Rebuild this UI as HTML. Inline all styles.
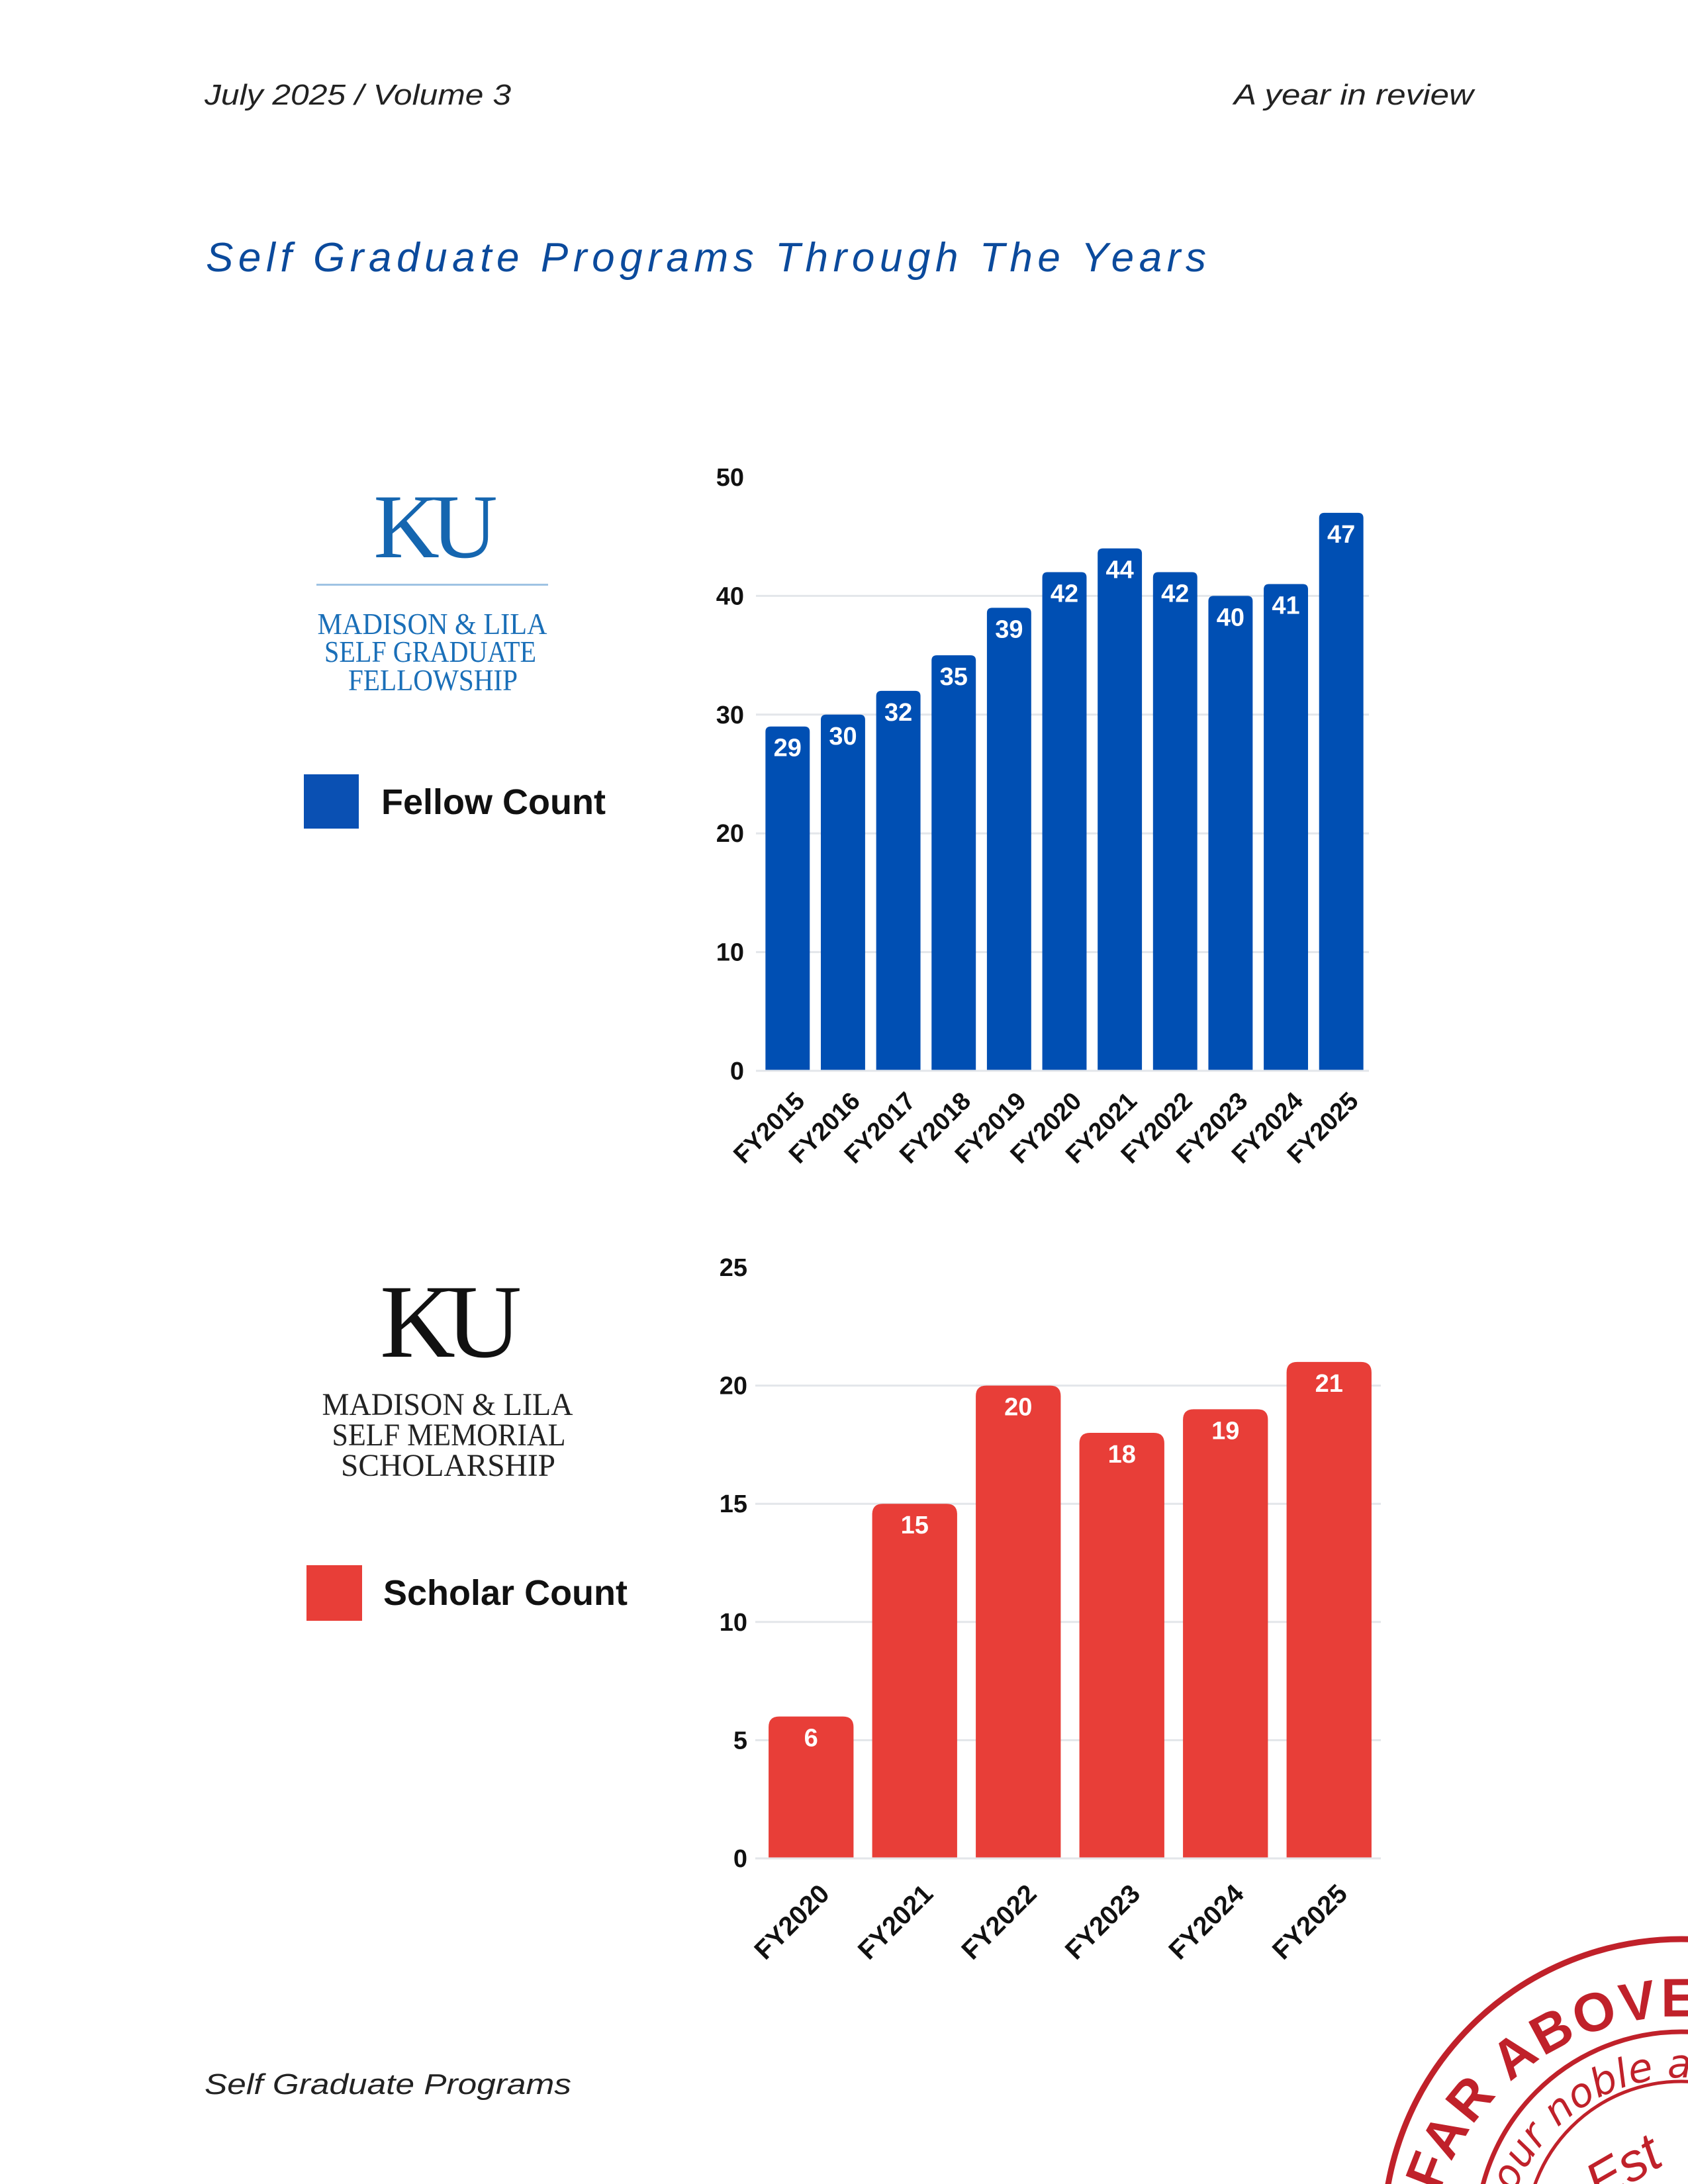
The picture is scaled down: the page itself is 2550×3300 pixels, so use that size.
<!DOCTYPE html>
<html><head><meta charset="utf-8">
<style>
html,body{margin:0;padding:0;background:#fff;overflow:hidden;width:2550px;height:3300px;}
svg{display:block;}
</style></head>
<body>
<svg id="page" width="2550" height="3300" viewBox="0 0 2550 3300" xmlns="http://www.w3.org/2000/svg" font-family="'Liberation Sans', sans-serif" overflow="hidden">
  <defs>
    <clipPath id="pageClip"><rect x="0" y="0" width="2550" height="3300"/></clipPath>
    <path id="arcOuter" d="M 2160 3480 A 380 380 0 0 1 2920 3380"/>
    <path id="arcMid" d="M 2270 3400 A 272 272 0 0 1 2812 3380"/>
  </defs>
  <text x="309" y="158" font-size="44" font-style="italic" fill="#222" textLength="463" lengthAdjust="spacingAndGlyphs">July 2025 / Volume 3</text>
  <text x="2226" y="158" font-size="44" font-style="italic" fill="#222" text-anchor="end" textLength="362" lengthAdjust="spacingAndGlyphs">A year in review</text>
  <text x="311" y="410" font-size="62" font-style="italic" fill="#0b4a9c" textLength="1511" lengthAdjust="spacing">Self Graduate Programs Through The Years</text>

  <g>
    <text x="652" y="842" font-family="'Liberation Serif', serif" font-size="138" fill="#1566b0" text-anchor="middle" letter-spacing="-12">KU</text>
    <rect x="478" y="882" width="350" height="3" fill="#9fc3e3"/>
    <g font-family="'Liberation Serif', serif" font-size="46" fill="#1a6fb8" text-anchor="middle">
      <text x="653" y="958" textLength="347" lengthAdjust="spacingAndGlyphs">MADISON &amp; LILA</text>
      <text x="650" y="1000" textLength="320" lengthAdjust="spacingAndGlyphs">SELF GRADUATE</text>
      <text x="654" y="1043" textLength="256" lengthAdjust="spacingAndGlyphs">FELLOWSHIP</text>
    </g>
  </g>
  <g>
    <rect x="459" y="1170" width="83" height="82" fill="#0a50b3"/>
    <text x="576" y="1230" font-size="54" font-weight="bold" fill="#111">Fellow Count</text>
  </g>

  <g>
    <text x="674" y="2050" font-family="'Liberation Serif', serif" font-size="158" fill="#111" text-anchor="middle" letter-spacing="-14">KU</text>
    <g font-family="'Liberation Serif', serif" font-size="48" fill="#222" text-anchor="middle">
      <text x="676" y="2138" textLength="379" lengthAdjust="spacingAndGlyphs">MADISON &amp; LILA</text>
      <text x="678" y="2184" textLength="353" lengthAdjust="spacingAndGlyphs">SELF MEMORIAL</text>
      <text x="677" y="2230" textLength="324" lengthAdjust="spacingAndGlyphs">SCHOLARSHIP</text>
    </g>
  </g>
  <g>
    <rect x="463" y="2365" width="84" height="84" fill="#e83e38"/>
    <text x="579" y="2425" font-size="54" font-weight="bold" fill="#111">Scholar Count</text>
  </g>

  <g id="chart1"></g>
  <g id="chart2"></g>

  <text x="309" y="3164" font-size="44" font-style="italic" fill="#222" textLength="554" lengthAdjust="spacingAndGlyphs">Self Graduate Programs</text>

  <g fill="none" stroke="#c0212a" clip-path="url(#pageClip)">
    <circle cx="2540" cy="3380" r="450" stroke-width="9"/>
    <circle cx="2540" cy="3380" r="310" stroke-width="7"/>
    <circle cx="2540" cy="3380" r="235" stroke-width="5"/>
    <text stroke="none" fill="#c0212a" font-size="82" font-weight="bold" letter-spacing="4"><textPath href="#arcOuter" startOffset="14%">FAR ABOVE THE</textPath></text>
    <text stroke="none" fill="#c0212a" font-size="60" font-style="italic" font-family="'DejaVu Sans', sans-serif"><textPath href="#arcMid" startOffset="11%">our noble and</textPath></text>
    <text x="2400" y="3310" stroke="none" fill="#c0212a" font-size="80" font-style="italic" transform="rotate(-30 2440 3290)">Est</text>
  </g>
</svg>

<script>
// Chart 1 data
const fellowCategories = ["FY2015","FY2016","FY2017","FY2018","FY2019","FY2020","FY2021","FY2022","FY2023","FY2024","FY2025"];
const fellowValues = [29,30,32,35,39,42,44,42,40,41,47];
const fellowTicks = [0,10,20,30,40,50];
// Chart 2 data
const scholarCategories = ["FY2020","FY2021","FY2022","FY2023","FY2024","FY2025"];
const scholarValues = [6,15,20,18,19,21];
const scholarTicks = [0,5,10,15,20,25];

const NS = "http://www.w3.org/2000/svg";
function mk(tag, attrs, parent){
  const e = document.createElementNS(NS, tag);
  for (const k in attrs) e.setAttribute(k, attrs[k]);
  parent.appendChild(e);
  return e;
}

function drawChart(g, cats, vals, ticks, cfg){
  const yMax = ticks[ticks.length-1];
  const y = v => cfg.y0 - (v / yMax) * (cfg.y0 - cfg.yTop);
  const pitch = (cfg.xR - cfg.xL) / cats.length;
  const bw = pitch * cfg.barFrac;
  const xc = i => cfg.xL + pitch * (i + 0.5);
  ticks.forEach(t => {
    if (t > 0 && t < yMax) {
      const gl = mk("line", {x1: cfg.xL - 6, x2: cfg.xR, y1: y(t), y2: y(t), stroke: "#e3e6ea", "stroke-width": 3}, g);
      
      
    }
    const tl = mk("text", {x: cfg.tickX, y: y(t) + 13, "font-size": 38, "font-weight": "bold", fill: "#111", "text-anchor": "end"}, g);
    tl.textContent = t;
    
    
  });
  vals.forEach((v, i) => {
    const x = xc(i) - bw / 2, top = y(v), r = cfg.radius;
    const d = `M${x},${cfg.y0} L${x},${top + r} Q${x},${top} ${x + r},${top} L${x + bw - r},${top} Q${x + bw},${top} ${x + bw},${top + r} L${x + bw},${cfg.y0} Z`;
    const bar = mk("path", {d: d, fill: cfg.color}, g);
    
    
    const vl = mk("text", {x: xc(i), y: top + 45, "font-size": 38, "font-weight": "bold", fill: "#fff", "text-anchor": "middle"}, g);
    vl.textContent = v;
    
    
    const lx = xc(i) + cfg.labDx, ly = cfg.y0 + cfg.labDy;
    const xl = mk("text", {x: lx, y: ly, "font-size": cfg.labSize, "font-weight": "bold", fill: "#111", "text-anchor": "end", transform: `rotate(-45 ${lx} ${ly})`}, g);
    xl.textContent = cats[i];
    
    
  });
  const base = mk("line", {x1: cfg.xL - 6, x2: cfg.xR, y1: cfg.y0, y2: cfg.y0, stroke: "#e3e6ea", "stroke-width": 3}, g);
  
  
}

drawChart(document.getElementById("chart1"), fellowCategories, fellowValues, fellowTicks,
  {xL: 1148, xR: 2068, y0: 1618, yTop: 721, barFrac: 0.8, color: "#004fb3", radius: 8, tickX: 1124, labDx: 28, labDy: 48, labSize: 38});
drawChart(document.getElementById("chart2"), scholarCategories, scholarValues, scholarTicks,
  {xL: 1147, xR: 2086, y0: 2808, yTop: 1915, barFrac: 0.82, color: "#e83e38", radius: 16, tickX: 1129, labDx: 30, labDy: 56, labSize: 40});
</script>
</body></html>
